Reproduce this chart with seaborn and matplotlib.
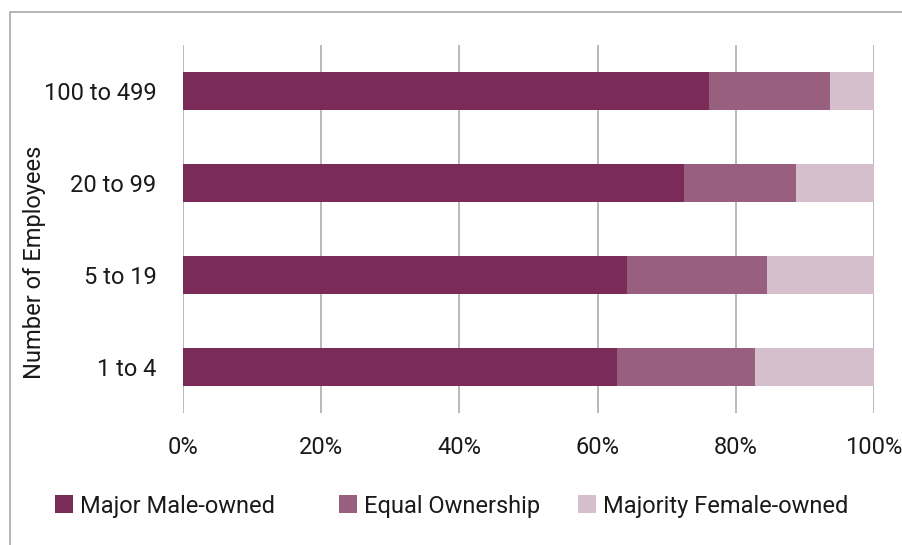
import matplotlib
matplotlib.use("Agg")
import matplotlib.pyplot as plt
from matplotlib.patches import Rectangle, Patch
import seaborn as sns
import pandas as pd
import numpy as np

# Business size groups (top to bottom) and ownership shares in percent
sizes = ["100 to 499", "20 to 99", "5 to 19", "1 to 4"]
male_owned = [76.1, 72.5, 64.3, 62.8]
equal_owned = [17.5, 16.2, 20.2, 20.0]
female_owned = [6.4, 11.3, 15.5, 17.2]
series_names = ["Major Male-owned", "Equal Ownership", "Majority Female-owned"]
x_ticks = [0, 20, 40, 60, 80, 100]
x_tick_labels = ["0%", "20%", "40%", "60%", "80%", "100%"]

colors = ["#7a2b57", "#98607e", "#d6bfcc"]

sns.set_theme(style="white")
plt.rcParams["font.family"] = ["Roboto", "DejaVu Sans"]

df = pd.DataFrame({
    "size": sizes,
    "male": male_owned,
    "equal": equal_owned,
    "female": female_owned,
})
df["cum_male"] = df["male"]
df["cum_equal"] = df["male"] + df["equal"]
df["cum_female"] = df["cum_equal"] + df["female"]

W, H = 902, 545
fig = plt.figure(figsize=(W / 100, H / 100), dpi=100)
ax = fig.add_axes([183 / W, 1 - 413 / H, 691 / W, 368 / H])

# stacked horizontal bars: draw cumulative totals from the longest down
for col, color in zip(["cum_female", "cum_equal", "cum_male"], colors[::-1]):
    sns.barplot(data=df, x=col, y="size", order=sizes, color=color,
                width=0.41, saturation=1, ax=ax, orient="h",
                linewidth=0, zorder=3)

ax.set_xlim(0, 100)
ax.set_xticks(x_ticks)
ax.set_xticklabels(x_tick_labels)
ax.set_xlabel("")
ax.set_ylabel("")
ax.grid(axis="x", color="#b3b3b3", linewidth=1.3, zorder=0)
ax.grid(axis="y", visible=False)
ax.set_axisbelow(True)
for s in ax.spines.values():
    s.set_visible(False)
ax.tick_params(axis="x", length=0, pad=16.5, labelsize=17, labelcolor="#1a1a1a")
ax.tick_params(axis="y", length=0, pad=19, labelsize=17, labelcolor="#1a1a1a")

fig.text(35 / W, 1 - 262 / H, "Number of Employees", rotation=90,
         ha="center", va="center", fontsize=17, color="#1a1a1a")

# legend entries placed individually along the bottom
legend_x = [55, 339, 578]
for name, color, lx in zip(series_names, colors, legend_x):
    fig.legend(handles=[Patch(facecolor=color, edgecolor="none", label=name)],
               loc="center left", bbox_to_anchor=(lx / W, 1 - 506 / H),
               frameon=False, fontsize=17, handlelength=0.78,
               handleheight=0.78, handletextpad=0.28, borderpad=0,
               borderaxespad=0, labelcolor="#1a1a1a")

# outer chart frame
fig.patches.append(Rectangle((10 / W, -0.05), 1.2, (1 - 12 / H) + 0.05,
                             transform=fig.transFigure, fill=False,
                             edgecolor="#b0b0b0", linewidth=1.3))

fig.savefig("out.png", dpi=100)
